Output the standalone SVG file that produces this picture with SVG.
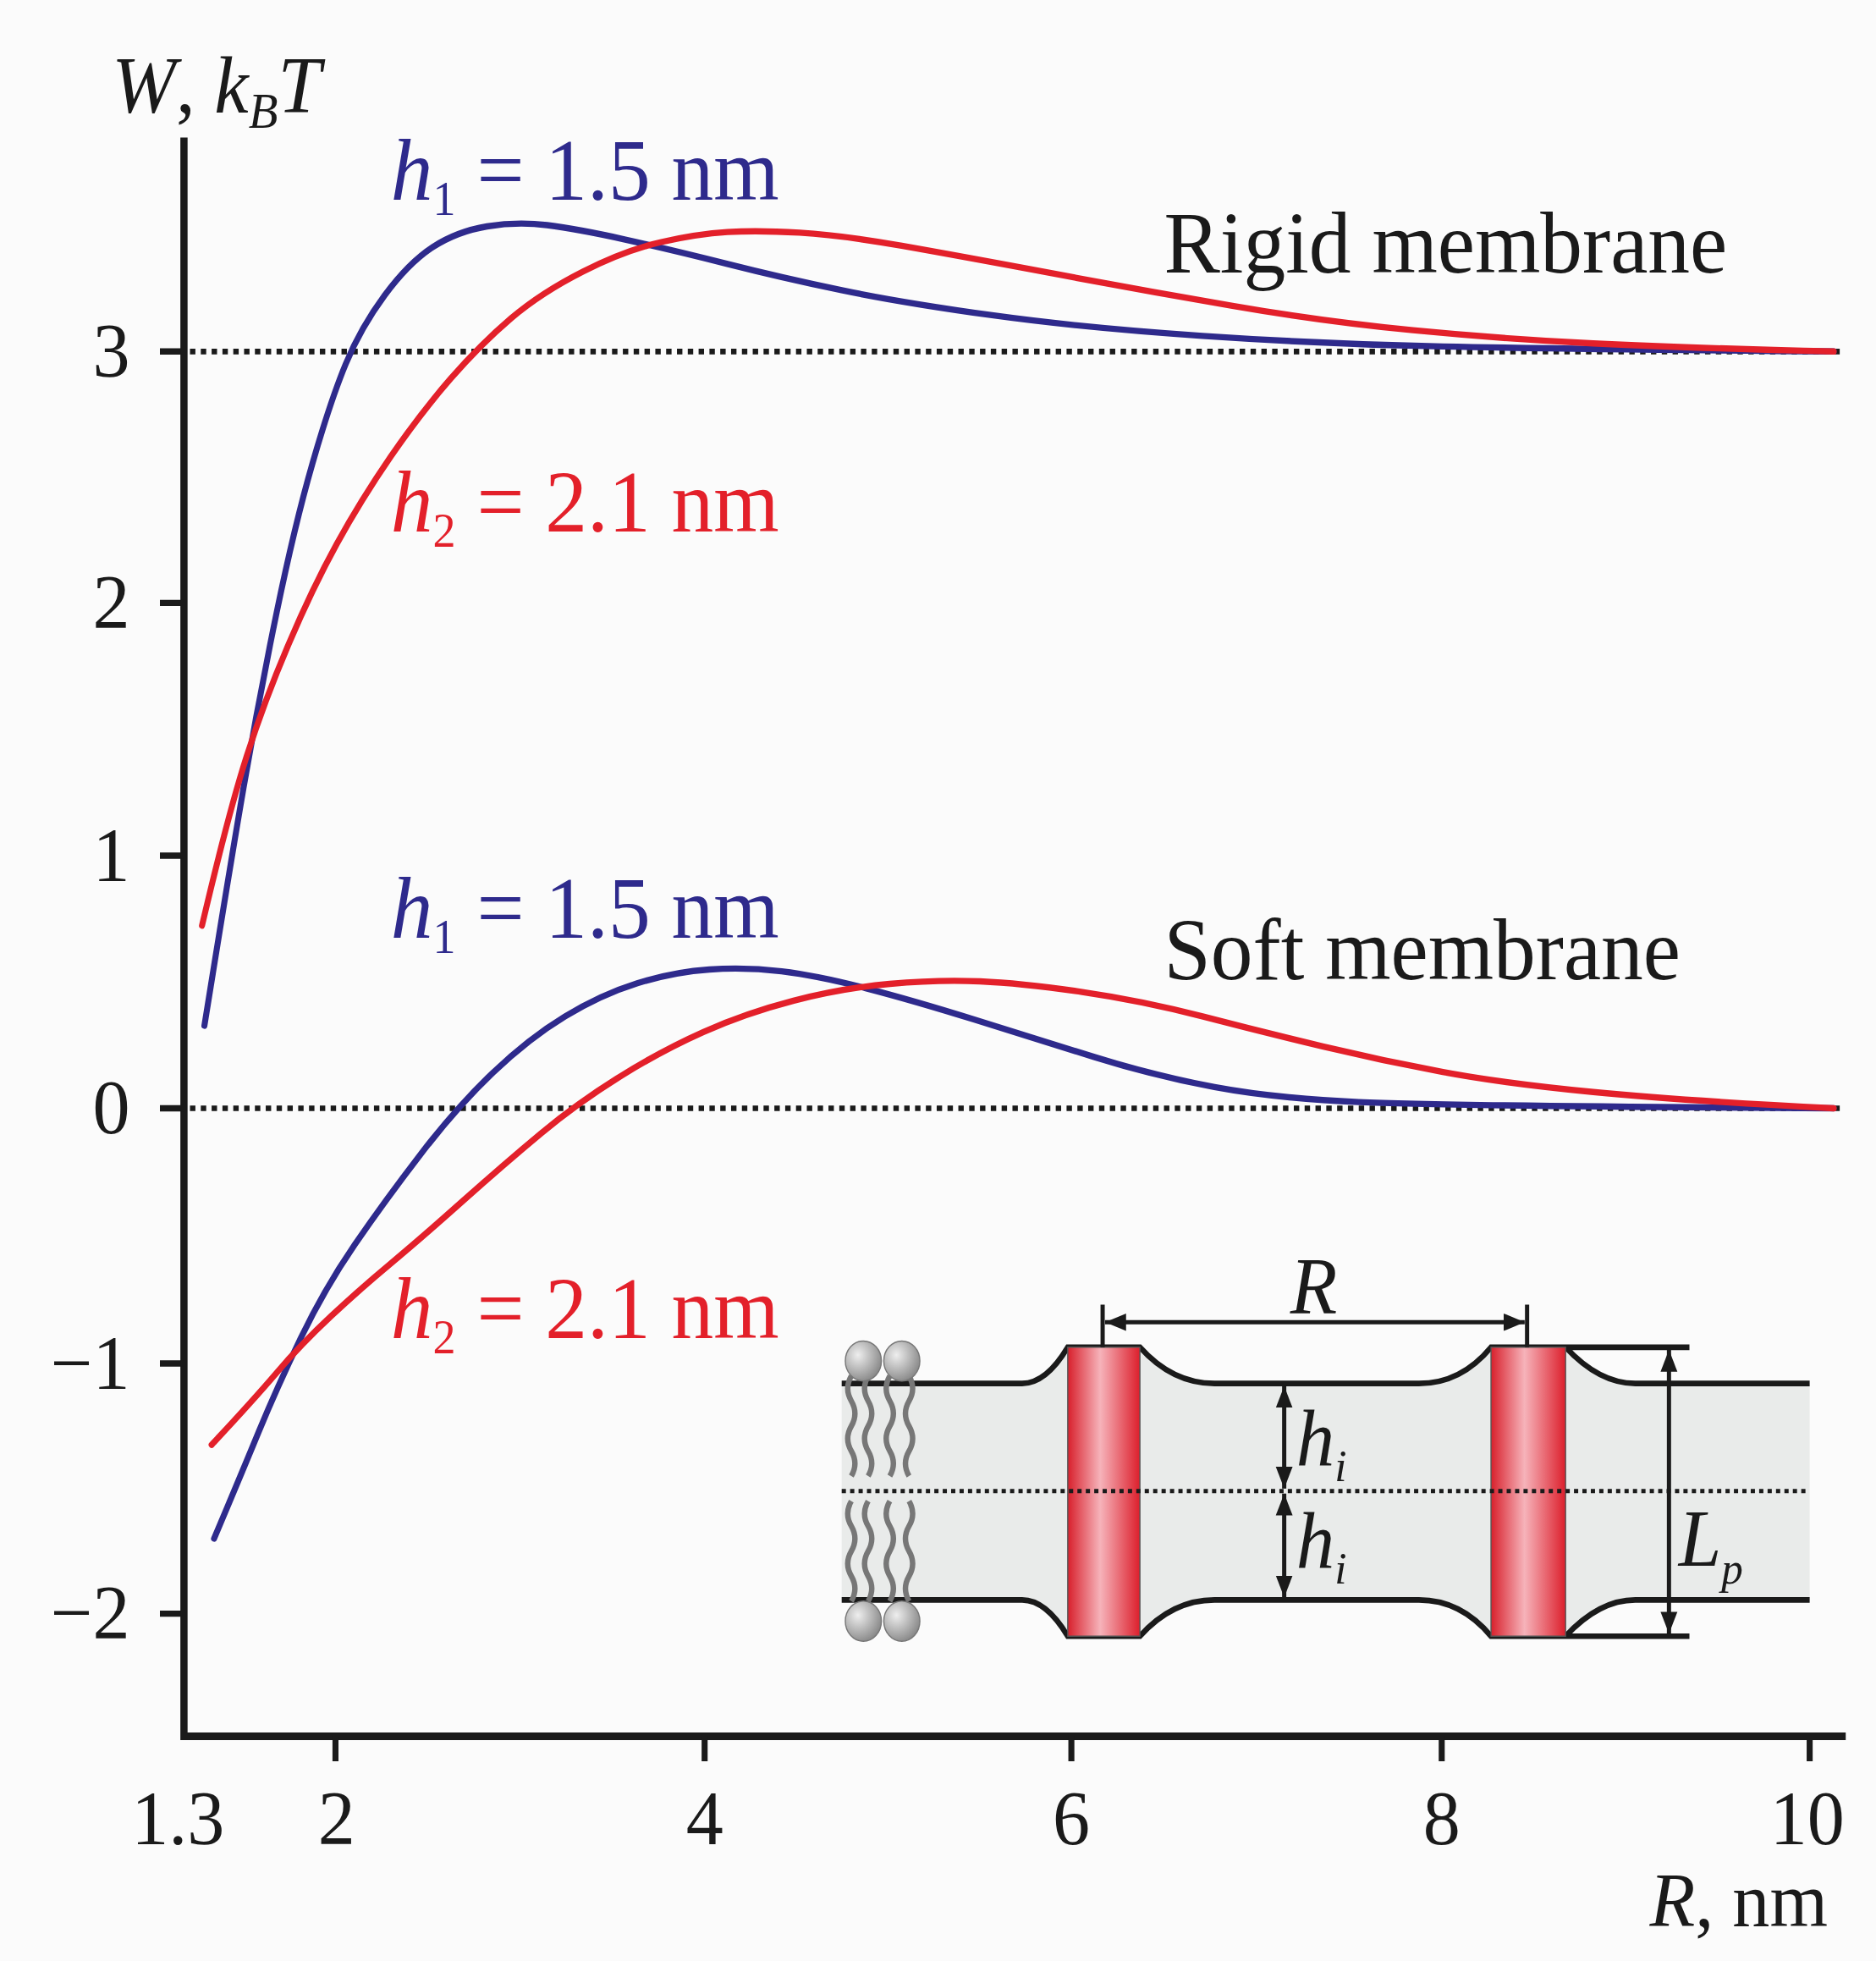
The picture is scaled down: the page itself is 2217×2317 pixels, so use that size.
<svg xmlns="http://www.w3.org/2000/svg" width="2217" height="2317" viewBox="0 0 2217 2317">
<style>
.t{font-family:"Liberation Serif",serif;fill:#1a1a1a}
.i{font-style:italic}
.n{font-style:normal}
.ax{stroke:#1a1a1a;fill:none}
.c{fill:none;stroke-width:5;stroke-linejoin:round;stroke-linecap:round}
.b{stroke:#2e2a8c}
.r{stroke:#e3202a}
.dot{stroke:#1a1a1a;stroke-width:4.5;stroke-dasharray:4.5 4.5}
.ml{stroke:#1a1a1a;stroke-width:4.5;fill:none}
.tail{stroke:#777;stroke-width:4.5;fill:none}
</style>
<defs>
<linearGradient id="pg" x1="0" x2="1" y1="0" y2="0">
<stop offset="0" stop-color="#d8202c"/><stop offset="0.45" stop-color="#f6b3ba"/><stop offset="1" stop-color="#dc1f2c"/>
</linearGradient>
<radialGradient id="hg" cx="0.35" cy="0.35" r="0.7"><stop offset="0" stop-color="#eee"/><stop offset="1" stop-color="#888"/></radialGradient>
<marker id="ar" viewBox="0 0 10 10" refX="10" refY="5" markerWidth="5" markerHeight="5" orient="auto-start-reverse"><path d="M0,1 L10,5 L0,9 Z" fill="#1a1a1a"/></marker>
</defs>
<rect width="2217" height="2317" fill="#fbfbfb"/>
<g transform="scale(1.421,1.478)">
<g id="axes">
<path class="ax" stroke-width="6" d="M153,110 V1388 H1535"/>
<path class="ax" stroke-width="5" d="M153,281 h-20 M153,482 h-20 M153,684 h-20 M153,886 h-20 M153,1090 h-20 M153,1290 h-20 M279,1388 v20 M586,1388 v20 M891,1388 v20 M1199,1388 v20 M1505,1388 v20"/>
<g class="t" font-size="62" text-anchor="end">
<text x="108" y="301">3</text><text x="108" y="502">2</text><text x="108" y="704">1</text><text x="108" y="906">0</text><text x="108" y="1110">−1</text><text x="108" y="1310">−2</text>
</g>
<g class="t" font-size="62" text-anchor="middle">
<text x="148" y="1474">1.3</text><text x="280" y="1474">2</text><text x="586" y="1474">4</text><text x="891" y="1474">6</text><text x="1199" y="1474">8</text><text x="1503" y="1474">10</text>
</g>
<text class="t" x="1520" y="1540" font-size="62" text-anchor="end"><tspan class="i">R</tspan>, nm</text>
<text class="t i" x="93" y="90" font-size="64">W<tspan class="n">, </tspan>k<tspan font-size="40" dy="12">B</tspan><tspan dy="-12">T</tspan></text>
</g>
<g id="zero-lines">
<line class="dot" x1="158" y1="281" x2="1530" y2="281"/>
<line class="dot" x1="158" y1="886" x2="1530" y2="886"/>
</g>
<g id="curves">
<path class="c b" d="M170,820 Q190,700 202.5,630 Q215,560 230,490 Q245,420 260,370 Q275,320 287.5,291 Q300,262 320,236 Q340,210 360,197.5 Q380,185 405,181 Q430,177 455,180 Q480,183 520,191.5 Q560,200 605,211 Q650,222 700,232 Q750,242 825,252 Q900,262 1000,268.5 Q1100,275 1200,277 Q1300,279 1525,281"/>
<path class="c r" d="M168,740 Q190,650 205,605 Q220,560 240,515 Q260,470 280,435 Q300,400 325,365 Q350,330 375,302.5 Q400,275 425,254.5 Q450,234 485,217 Q520,200 550,193.5 Q580,187 605,185.5 Q630,184 665,186 Q700,188 750,196.5 Q800,205 875,218.5 Q950,232 1025,244.5 Q1100,257 1175,264 Q1250,271 1325,274.5 Q1400,278 1525,281"/>
<path class="c b" d="M178,1230 Q200,1180 215,1145 Q230,1110 250,1070 Q270,1030 295,995 Q320,960 350,922.5 Q380,885 410,857.5 Q440,830 470,812.5 Q500,795 530,786 Q560,777 590,775 Q620,773 650,776.5 Q680,780 720,790 Q760,800 810,815 Q860,830 910,845 Q960,860 1010,869 Q1060,878 1130,881 Q1200,884 1525,886"/>
<path class="c r" d="M176,1155 Q210,1120 230,1097.5 Q250,1075 275,1052.5 Q300,1030 325,1010 Q350,990 385,960 Q420,930 450,906 Q480,882 515,861 Q550,840 585,825 Q620,810 660,800 Q700,790 740,786.5 Q780,783 815,784.5 Q850,786 900,793 Q950,800 1000,812.5 Q1050,825 1100,836.5 Q1150,848 1200,857 Q1250,866 1325,873 Q1400,880 1525,886"/>
</g>
<g id="labels" font-size="70">
<text class="t i" x="325" y="160" style="fill:#2e2a8c">h<tspan class="n" font-size="38" dy="12">1</tspan><tspan class="n" dy="-12"> = 1.5 nm</tspan></text>
<text class="t i" x="325" y="425" style="fill:#e3202a">h<tspan class="n" font-size="38" dy="12">2</tspan><tspan class="n" dy="-12"> = 2.1 nm</tspan></text>
<text class="t i" x="325" y="750" style="fill:#2e2a8c">h<tspan class="n" font-size="38" dy="12">1</tspan><tspan class="n" dy="-12"> = 1.5 nm</tspan></text>
<text class="t i" x="325" y="1070" style="fill:#e3202a">h<tspan class="n" font-size="38" dy="12">2</tspan><tspan class="n" dy="-12"> = 2.1 nm</tspan></text>
<text class="t" x="968" y="218">Rigid membrane</text>
<text class="t" x="968" y="783">Soft membrane</text>
</g>
<g id="inset">
<path fill="#e9ebea" d="M700,1106 H850 Q870,1106 888,1077 H948 Q975,1106 1010,1106 H1180 Q1215,1106 1240,1077 H1302 Q1330,1106 1360,1106 H1505 V1279 H1360 Q1330,1279 1302,1308 H1240 Q1215,1279 1180,1279 H1010 Q975,1279 948,1308 H888 Q870,1279 850,1279 H700 Z"/>
<path class="ml" d="M700,1106 H850 Q870,1106 888,1077 H948 Q975,1106 1010,1106 H1180 Q1215,1106 1240,1077 H1405 M1302,1077 Q1330,1106 1360,1106 H1505"/>
<path class="ml" d="M700,1279 H850 Q870,1279 888,1308 H948 Q975,1279 1010,1279 H1180 Q1215,1279 1240,1308 H1405 M1302,1308 Q1330,1279 1360,1279 H1505"/>
<rect x="888" y="1077" width="60" height="231" fill="url(#pg)" stroke="#555" stroke-width="1"/>
<rect x="1240" y="1077" width="62" height="231" fill="url(#pg)" stroke="#555" stroke-width="1"/>
<line x1="700" y1="1192" x2="1505" y2="1192" stroke="#1a1a1a" stroke-width="3.5" stroke-dasharray="3.5 3.5"/>
<g class="tail">
<path d="M708,1100 q-6,10 0,20 q6,10 0,20 q-6,10 0,20 q6,10 0,20 M708,1200 q-6,10 0,20 q6,10 0,20 q-6,10 0,20 q6,10 0,20"/>
<path d="M722,1100 q-6,10 0,20 q6,10 0,20 q-6,10 0,20 q6,10 0,20 M722,1200 q-6,10 0,20 q6,10 0,20 q-6,10 0,20 q6,10 0,20"/>
<path d="M740,1100 q-6,10 0,20 q6,10 0,20 q-6,10 0,20 q6,10 0,20 M740,1200 q-6,10 0,20 q6,10 0,20 q-6,10 0,20 q6,10 0,20"/>
<path d="M756,1100 q6,10 0,20 q-6,10 0,20 q6,10 0,20 q-6,10 0,20 M756,1200 q6,10 0,20 q-6,10 0,20 q6,10 0,20 q-6,10 0,20"/>
</g>
<g fill="url(#hg)" stroke="#777" stroke-width="1">
<ellipse cx="718" cy="1088" rx="15" ry="16"/><ellipse cx="750" cy="1088" rx="15" ry="16"/>
<ellipse cx="718" cy="1296" rx="15" ry="16"/><ellipse cx="750" cy="1296" rx="15" ry="16"/>
</g>
<g stroke="#1a1a1a" stroke-width="3.5" fill="none">
<path d="M917,1043 V1077 M1270,1043 V1077"/>
<line x1="919" y1="1057" x2="1268" y2="1057" marker-start="url(#ar)" marker-end="url(#ar)"/>
<line x1="1068" y1="1108" x2="1068" y2="1190" marker-start="url(#ar)" marker-end="url(#ar)"/>
<line x1="1068" y1="1194" x2="1068" y2="1277" marker-start="url(#ar)" marker-end="url(#ar)"/>
<line x1="1388" y1="1079" x2="1388" y2="1306" marker-start="url(#ar)" marker-end="url(#ar)"/>
</g>
<g class="t i" font-size="64">
<text x="1073" y="1050">R</text>
<text x="1078" y="1172">h<tspan font-size="36" dy="12">i</tspan></text>
<text x="1078" y="1254">h<tspan font-size="36" dy="12">i</tspan></text>
<text x="1396" y="1252">L<tspan font-size="36" dy="14">p</tspan></text>
</g>
</g>
</g>
</svg>
